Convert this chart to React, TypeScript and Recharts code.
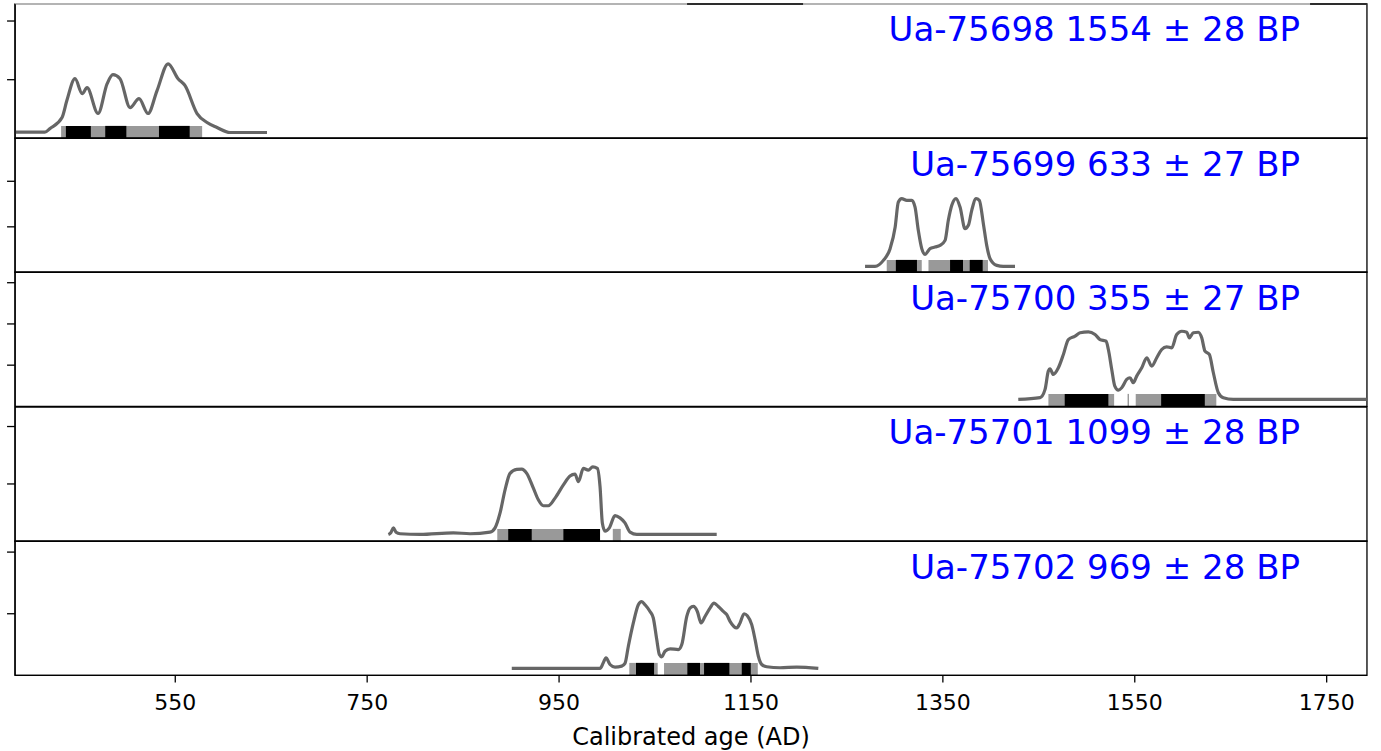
import React from 'react';
import { ComposedChart, Line, XAxis, YAxis, ReferenceArea, ReferenceLine } from 'recharts';

// ---------- data ----------
const xDomain: [number, number] = [383, 1792];
const xTicks = [550, 750, 950, 1150, 1350, 1550, 1750];
const xLabel = 'Calibrated age (AD)';

const labels = [
  'Ua-75698 1554 ± 28 BP',
  'Ua-75699 633 ± 27 BP',
  'Ua-75700 355 ± 27 BP',
  'Ua-75701 1099 ± 28 BP',
  'Ua-75702 969 ± 28 BP',
];

const curve75698: [number, number][] = [
  [383, 0.107], [414, 0.107], [419.5, 0.17], [432, 0.356], [437, 0.644], [445.5, 1.017], [453, 0.763],
  [458, 0.864], [469.5, 0.424], [479, 0.932], [485, 1.085], [492.4, 1.017], [502.9, 0.525], [512.2, 0.678],
  [521.6, 0.424], [531, 0.814], [542.5, 1.271], [552.9, 1.017], [560.2, 0.898], [572.7, 0.424], [583.1, 0.271],
  [593.5, 0.186], [607, 0.1], [645.6, 0.1],
];
const range95_75698: [number, number][] = [[431, 578]];
const range68_75698: [number, number][] = [[436, 462], [477, 499], [533, 565]];

const curve75699: [number, number][] = [
  [1268.9, 0.132], [1279.3, 0.132], [1288, 0.264], [1295, 0.521], [1300.3, 0.996], [1303.6, 1.545], [1307.1, 1.62],
  [1312.4, 1.582], [1317.6, 1.582], [1321, 1.435], [1324.4, 0.923], [1328, 0.521], [1331.4, 0.396], [1336.6, 0.521],
  [1341.8, 0.556], [1347.1, 0.593], [1352.3, 0.703], [1355.7, 1.143], [1359.3, 1.473], [1363.7, 1.62], [1367.9, 1.435],
  [1373.1, 0.96], [1376.6, 1.033], [1380.1, 1.363], [1384.6, 1.62], [1388, 1.582], [1392.2, 1.07], [1395.7, 0.593],
  [1399.2, 0.301], [1406.2, 0.154], [1413, 0.132], [1425.2, 0.132],
];
const range95_75699: [number, number][] = [[1291.5, 1328], [1335, 1397]];
const range68_75699: [number, number][] = [[1301, 1323], [1357.5, 1371], [1378, 1391.5]];

const curve75700: [number, number][] = [
  [1428.6, 0.169], [1451.3, 0.211], [1456.5, 0.412], [1459.9, 0.855], [1461.7, 0.913], [1465.1, 0.775], [1470.4, 0.937],
  [1475.6, 1.259], [1480.8, 1.622], [1487.8, 1.702], [1493, 1.785], [1501.6, 1.809], [1508.6, 1.743], [1513.8, 1.622],
  [1520.1, 1.581], [1522.5, 1.38], [1526, 0.896], [1529.2, 0.492], [1532.9, 0.395], [1536.4, 0.453], [1541.6, 0.654],
  [1545, 0.695], [1548.5, 0.574], [1552, 0.734], [1557.3, 0.937], [1562.5, 1.179], [1567.7, 0.976], [1572.9, 1.179],
  [1578.1, 1.38], [1583.3, 1.446], [1588.5, 1.421], [1593.7, 1.743], [1598.9, 1.823], [1604.2, 1.799], [1606.9, 1.663],
  [1611, 1.785], [1616.3, 1.799], [1619.8, 1.663], [1623.2, 1.339], [1627.7, 1.259], [1631.9, 0.816], [1637.1, 0.332],
  [1642.3, 0.211], [1652.7, 0.169], [1791.7, 0.169],
];
const range95_75700: [number, number][] = [[1460, 1528.5], [1542.5, 1544], [1551, 1635]];
const range68_75700: [number, number][] = [[1477, 1522.5], [1577.5, 1623]];

const curve75701: [number, number][] = [
  [772.1, 0.121], [774.6, 0.15], [777.3, 0.236], [780.1, 0.16], [784.3, 0.133], [805.1, 0.121], [839.8, 0.15],
  [857.2, 0.133], [878, 0.16], [883.3, 0.236], [888.5, 0.495], [893.7, 0.897], [898.9, 1.184], [905.9, 1.253],
  [911.1, 1.259], [916.3, 1.184], [923.2, 0.926], [928.4, 0.724], [933.6, 0.621], [938.8, 0.621], [945.8, 0.753],
  [954.5, 0.983], [961.4, 1.138], [966.6, 1.172], [970.1, 1.04], [975.3, 1.271], [980.5, 1.241], [985.1, 1.298],
  [989.9, 1.271], [992.7, 0.953], [995.1, 0.322], [997.9, 0.178], [1002.4, 0.236], [1008.3, 0.448], [1013.5, 0.409],
  [1018.7, 0.322], [1024, 0.16], [1031, 0.121], [1114.3, 0.121],
];
const range95_75701: [number, number][] = [[885.6, 992.7], [1006, 1014.3]];
const range68_75701: [number, number][] = [[897, 921.5], [954.5, 992.7]];

const curve75702: [number, number][] = [
  [900.7, 0.113], [992.7, 0.113], [996.1, 0.205], [998.9, 0.285], [1003.1, 0.177], [1008.3, 0.134], [1015.3, 0.15],
  [1018.7, 0.194], [1022.2, 0.473], [1027.4, 0.85], [1032.6, 1.145], [1036.1, 1.198], [1039.6, 1.145], [1044.8, 1.037],
  [1048.2, 0.931], [1051.8, 0.581], [1054.5, 0.339], [1057, 0.302], [1060.4, 0.392], [1065.7, 0.431], [1074.3, 0.419],
  [1077.9, 0.5], [1083.1, 0.956], [1086.5, 1.092], [1090, 1.118], [1094.1, 1.037], [1098, 0.85], [1102.1, 0.956],
  [1107.3, 1.092], [1111.5, 1.173], [1116, 1.118], [1121.2, 1.037], [1124.8, 0.984], [1128.2, 0.876], [1135.2, 0.769],
  [1138.6, 0.85], [1142.8, 1.0], [1146.2, 0.968], [1150.8, 0.823], [1154.3, 0.581], [1157.7, 0.311], [1161.2, 0.177],
  [1166.4, 0.14], [1180.3, 0.124], [1197.7, 0.134], [1220.2, 0.113],
];
const range95_75702: [number, number][] = [[1023.2, 1052.8], [1059.4, 1157.1]];
const range68_75702: [number, number][] = [[1030.2, 1049], [1083.7, 1096.9], [1101.1, 1127.5], [1140.4, 1149.8]];

const yMaxes = [2.29, 2.95, 3.26, 2.34, 2.18];
const yTicks = [[1, 2], [1, 2], [1, 2, 3], [1, 2], [1, 2]];

// spans of the top border of the first panel that stay dark (the rest is faded)
const topDarkSpans: [number, number][] = [[1083.4, 1204.3], [1732.7, 1792]];

const curves = [curve75698, curve75699, curve75700, curve75701, curve75702];
const ranges95 = [range95_75698, range95_75699, range95_75700, range95_75701, range95_75702];
const ranges68 = [range68_75698, range68_75699, range68_75700, range68_75701, range68_75702];

// ---------- layout ----------
const W = 1381;
const H = 751;
const PANEL_TOP = 3.5;
const PANEL_H = 134.4;
const PAD = 2;
const LEFT = 15;
const RIGHT_MARGIN = 14;
const BAR_PX = 12.5;
const TITLE_SIZE = 34;
const TICK_SIZE = 22;
const LABEL_SIZE = 24;
const FONT = '"DejaVu Sans", sans-serif';

function Panel({ i }: { i: number }) {
  const isLast = i === curves.length - 1;
  const top = PANEL_TOP + i * PANEL_H;
  const yMax = yMaxes[i];
  const barTop = (BAR_PX / PANEL_H) * yMax;
  const data = curves[i].map(([x, y]) => ({ x, y }));
  const xAxisH = H - (top + PANEL_H);
  const height = isLast ? PAD + PANEL_H + xAxisH : PANEL_H + 2 * PAD;
  return (
    <div style={{ position: 'absolute', left: 0, top: top - PAD, width: W, height }}>
      <ComposedChart
        width={W}
        height={height}
        data={data}
        margin={{ top: PAD, right: RIGHT_MARGIN, bottom: isLast ? 0 : PAD, left: 0 }}
      >
        <XAxis
          type="number"
          dataKey="x"
          domain={xDomain}
          ticks={xTicks}
          allowDataOverflow
          hide={!isLast}
          height={isLast ? xAxisH : 0}
          tickSize={7}
          tickMargin={12}
          tick={{ fill: '#000', fontSize: TICK_SIZE, fontFamily: FONT }}
          axisLine={{ stroke: '#000', strokeWidth: 1.3 }}
          tickLine={{ stroke: '#000', strokeWidth: 1.3 }}
        />
        <YAxis
          type="number"
          domain={[0, yMax]}
          ticks={yTicks[i]}
          allowDataOverflow
          width={LEFT}
          tickSize={8}
          tickFormatter={() => ''}
          axisLine={{ stroke: '#000', strokeWidth: 1.3 }}
          tickLine={{ stroke: '#000', strokeWidth: 1.3 }}
        />
        <Line
          type="monotone"
          dataKey="y"
          stroke="#666666"
          strokeWidth={3.2}
          dot={false}
          isAnimationActive={false}
        />
        {ranges95[i].map(([a, b], k) => (
          <ReferenceArea key={'g' + k} x1={a} x2={b} y1={0} y2={barTop} fill="#999999" fillOpacity={1} stroke="none" ifOverflow="visible" />
        ))}
        {ranges68[i].map(([a, b], k) => (
          <ReferenceArea key={'b' + k} x1={a} x2={b} y1={0} y2={barTop} fill="#000000" fillOpacity={1} stroke="none" ifOverflow="visible" />
        ))}
        <ReferenceArea
          x1={xDomain[0]}
          x2={xDomain[1]}
          y1={0}
          y2={yMax}
          fill="none"
          fillOpacity={0}
          stroke="#000"
          strokeWidth={1.3}
          ifOverflow="visible"
        />
        {i === 0 && (
          <ReferenceLine y={yMax} stroke="#dddddd" strokeWidth={1.6} ifOverflow="visible" />
        )}
        {i === 0 &&
          topDarkSpans.map(([a, b], k) => (
            <ReferenceLine
              key={'t' + k}
              segment={[{ x: a, y: yMax }, { x: b, y: yMax }]}
              stroke="#000"
              strokeWidth={1.6}
              ifOverflow="visible"
            />
          ))}
      </ComposedChart>
      <div
        style={{
          position: 'absolute',
          right: W - 1300,
          top: PAD + 37.5 - 0.846 * TITLE_SIZE,
          fontSize: TITLE_SIZE,
          lineHeight: TITLE_SIZE + 'px',
          color: '#0000ff',
          fontFamily: FONT,
          whiteSpace: 'nowrap',
        }}
      >
        {labels[i]}
      </div>
    </div>
  );
}

export default function App() {
  return (
    <div style={{ position: 'absolute', left: 0, top: 0, width: W, height: H, background: '#fff', fontFamily: FONT, overflow: 'hidden' }}>
      {curves.map((_, i) => (
        <Panel key={i} i={i} />
      ))}
      <div
        style={{
          position: 'absolute',
          left: LEFT,
          width: W - LEFT - RIGHT_MARGIN,
          top: 745 - 0.846 * LABEL_SIZE,
          fontSize: LABEL_SIZE,
          lineHeight: LABEL_SIZE + 'px',
          textAlign: 'center',
          color: '#000',
          fontFamily: FONT,
        }}
      >
        {xLabel}
      </div>
    </div>
  );
}
